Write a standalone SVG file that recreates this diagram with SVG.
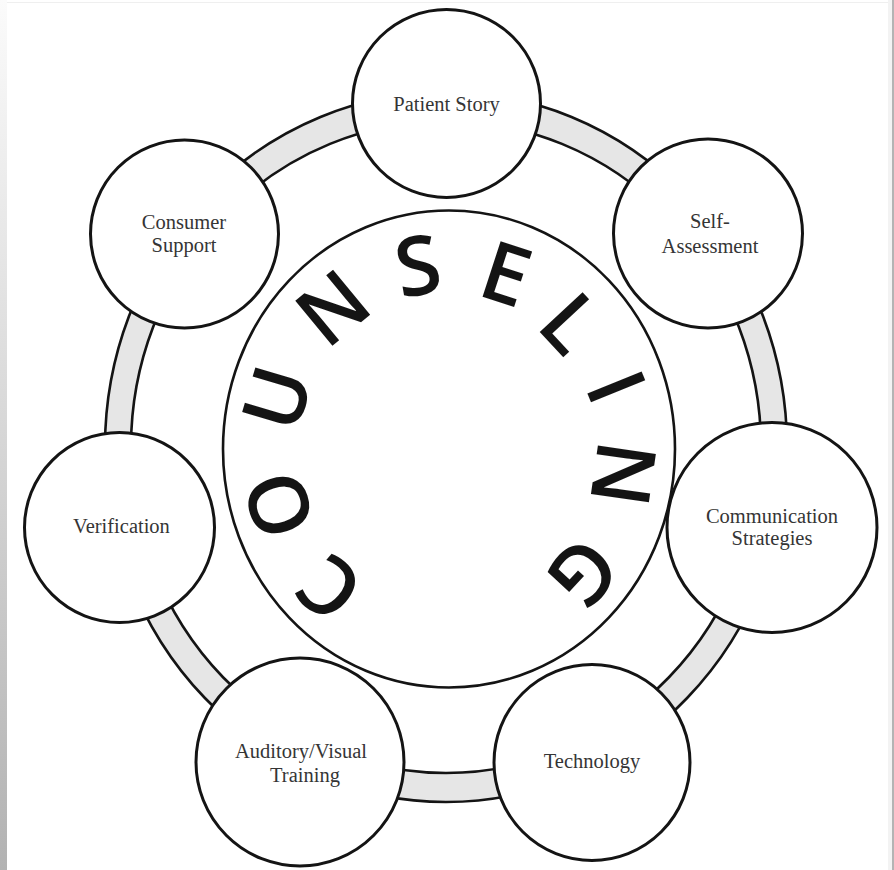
<svg xmlns="http://www.w3.org/2000/svg" width="894" height="870" viewBox="0 0 894 870">
  <defs>
    <linearGradient id="edge" x1="0" y1="0" x2="0" y2="1">
      <stop offset="0" stop-color="#fbfbfb"/>
      <stop offset="1" stop-color="#b2b2b2"/>
    </linearGradient>
  </defs>
  <style>
    .node { fill: #ffffff; stroke: #141414; stroke-width: 3; }
    .lbl { font-family: "Liberation Serif", "Times New Roman", serif; font-size: 20.5px; fill: #353535; text-anchor: middle; }
    .ring { stroke: #141414; stroke-width: 2.6; }
    .big { font-family: "Open Sans", "Noto Sans", sans-serif; font-weight: 600; font-size: 82px; fill: #141414; text-anchor: middle; }
  </style>
  <rect x="0" y="0" width="894" height="870" fill="#ffffff"/>
  <rect x="0" y="0" width="7" height="870" fill="url(#edge)"/>
  <rect x="888" y="0" width="4" height="870" fill="#f3f3f3"/>
  <rect x="892" y="0" width="2" height="870" fill="#b4b4b4"/>
  <rect x="7" y="2" width="881" height="1" fill="#efefef"/>

  <g id="connectors">
    <ellipse class="ring" cx="446" cy="447" rx="341" ry="355" fill="#e6e6e6"/>
    <ellipse class="ring" cx="446" cy="447" rx="315" ry="326" fill="#ffffff"/>
  </g>

  <g id="patient-story">
    <circle class="node" cx="446.5" cy="103.5" r="94"/>
    <text class="lbl" x="446.5" y="111">Patient Story</text>
  </g>
  <g id="self-assessment">
    <circle class="node" cx="708" cy="233.5" r="94.5"/>
    <text class="lbl" x="710" y="228">Self-</text>
    <text class="lbl" x="710" y="252.5">Assessment</text>
  </g>
  <g id="communication-strategies">
    <circle class="node" cx="772" cy="527.5" r="105"/>
    <text class="lbl" x="772" y="523">Communication</text>
    <text class="lbl" x="772" y="544.5">Strategies</text>
  </g>
  <g id="technology">
    <circle class="node" cx="592" cy="762.5" r="98"/>
    <text class="lbl" x="592" y="768">Technology</text>
  </g>
  <g id="auditory-visual-training">
    <circle class="node" cx="300" cy="762" r="104"/>
    <text class="lbl" x="301" y="758">Auditory/Visual</text>
    <text class="lbl" x="305" y="781.5">Training</text>
  </g>
  <g id="verification">
    <circle class="node" cx="119.5" cy="527.5" r="95"/>
    <text class="lbl" x="121.5" y="533">Verification</text>
  </g>
  <g id="consumer-support">
    <circle class="node" cx="184.5" cy="234" r="94"/>
    <text class="lbl" x="184" y="229">Consumer</text>
    <text class="lbl" x="184" y="251.5">Support</text>
  </g>

  <g id="counseling">
    <ellipse cx="449" cy="449" rx="226" ry="238.5" fill="none" stroke="#141414" stroke-width="2.6"/>
    <text class="big" transform="translate(330,588) rotate(220.6)" y="29">C</text>
    <text class="big" transform="translate(279,505) rotate(251.8)" y="29">O</text>
    <text class="big" transform="translate(277,398) rotate(286.5)" y="29">U</text>
    <text class="big" transform="translate(333,308) rotate(320.6)" y="29">N</text>
    <text class="big" transform="translate(418,266) rotate(350.4)" y="29">S</text>
    <text class="big" transform="translate(506,274) rotate(18)" y="29">E</text>
    <text class="big" transform="translate(571,323) rotate(47)" y="29">L</text>
    <text class="big" transform="translate(616,387) rotate(68)" y="29">I</text>
    <text class="big" transform="translate(623,474) rotate(98.2)" y="29">N</text>
    <text class="big" transform="translate(583,573) rotate(132.8)" y="29">G</text>
  </g>
</svg>
